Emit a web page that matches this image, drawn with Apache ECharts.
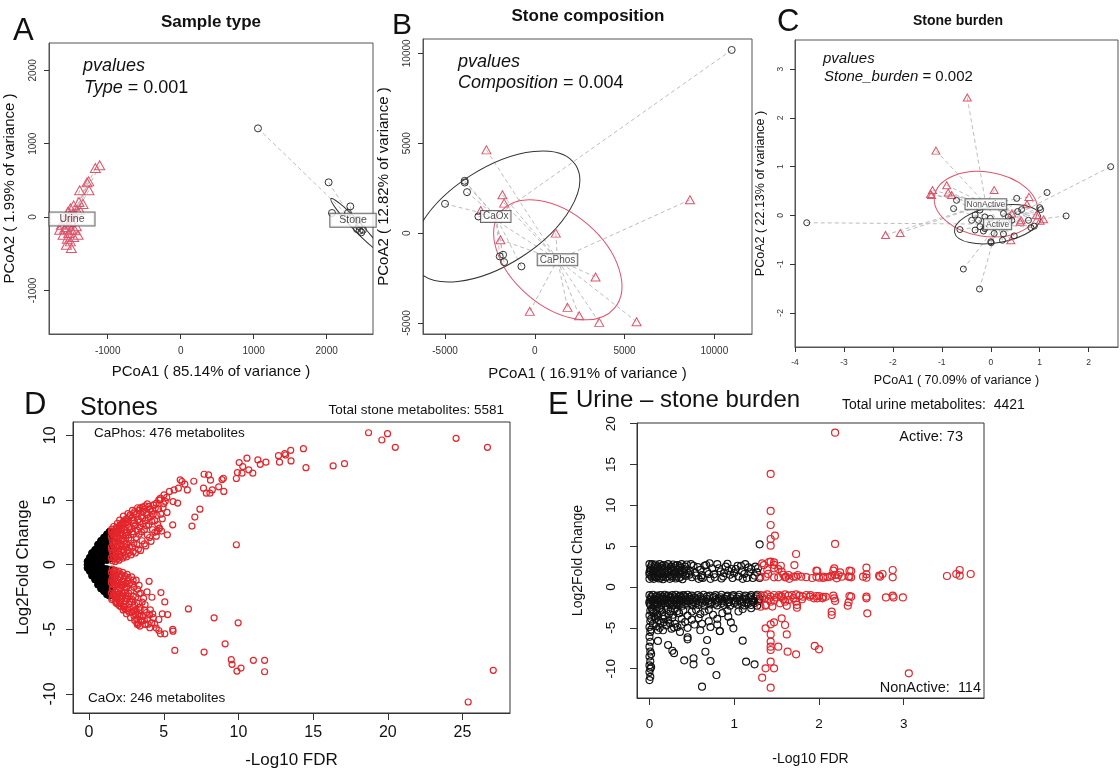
<!DOCTYPE html>
<html><head><meta charset="utf-8">
<script src="https://cdn.jsdelivr.net/npm/echarts@6/dist/echarts.min.js"></script>
<style>html,body{margin:0;padding:0;background:#fff}#c{width:1120px;height:773px}</style>
</head><body><div id="c"></div>
<script>
// ---------- Panel A: Sample type ----------
const aUrine = [[-1110,705],[-1169,668],[-1260,486],[-1283,473],[-1384,364],[-1256,364],[-1393,205],[-1338,177],[-1466,159],[-1511,118],[-1420,95],[-1543,73],[-1466,55],[-1384,100],[-1480,40],[-1530,20],[-1575,-36],[-1500,-60],[-1635,-105],[-1566,-136],[-1498,-173],[-1429,-127],[-1534,-218],[-1612,-241],[-1466,-273],[-1406,-241],[-1566,-377],[-1498,-423],[-1553,-295],[-1511,-332],[-1658,-173],[-1590,-160],[-1450,-180],[-1540,-90]];
const aStone = [[1059,1209],[2027,473],[2324,145],[2073,55],[2292,55],[2429,-36],[2416,-164],[2452,-186],[2475,-209],[2498,-173],[2443,-127]];
const aUrineCentroid = [-1489,-27];
const aStoneCentroid = [2361,-45];
const aStoneEllipse = [2400,-110, 2060,250, 2445,-67]; // centre, major-axis end, minor-axis end
const aXTicks = [-1000,0,1000,2000];
const aYTicks = [-1000,0,1000,2000];

// ---------- Panel B: Stone composition ----------
const bCaOx = [[10968,10186],[-3904,2908],[-3904,2815],[-3774,2278],[-5000,1630],[-3142,926],[-1952,-1296],[-1766,-1204],[-1710,-1611],[-744,-1852]];
const bCaPhos = [[-2696,4630],[-1803,2130],[-1710,1667],[-3012,1259],[-1915,-370],[1171,0],[8644,1852],[3383,-2444],[1822,-4130],[-279,-4352],[2472,-4593],[3588,-4963],[5670,-4926]];
const bCaOxCentroid = [-2175,926];
const bCaPhosCentroid = [1264,-1482];
const bCaOxEllipse = [-2175,926, 2268,3797, -719,-1315];
const bCaPhosEllipse = [1283,-1482, 4428,-4187, -407,-3432];
const bXTicks = [-5000,0,5000,10000];
const bYTicks = [-5000,0,5000,10000];

// ---------- Panel C: Stone burden ----------
const cNonActive = [[-0.48,2.42],[-1.12,1.33],[0.07,0.52],[-1.19,0.52],[-1.23,0.44],[-1.21,0.42],[-0.90,0.62],[-0.87,0.47],[-0.80,0.42],[0.78,0.38],[0.74,0.23],[0.93,0.01],[1.01,-0.11],[1.08,-0.08],[0.62,-0.10],[0.60,-0.13],[0.43,0.04],[0.41,-0.51],[-2.15,-0.40],[-1.85,-0.36]];
const cActive = [[-3.76,-0.15],[2.45,1.00],[1.54,-0.01],[1.15,0.47],[0.53,0.35],[1.00,0.16],[1.02,0.12],[-0.70,0.31],[-0.76,0.14],[-0.22,0.11],[-0.32,0.01],[-0.39,-0.10],[-0.25,-0.10],[-0.12,-0.03],[-0.01,-0.06],[-0.32,-0.30],[-0.15,-0.32],[0.26,0.04],[0.36,-0.03],[0.43,-0.10],[0.55,0.08],[0.63,0.12],[0.77,-0.10],[0.82,-0.25],[0.89,-0.22],[0.48,-0.42],[0.26,-0.38],[0.07,-0.37],[0.24,-0.51],[0.00,-0.54],[0.01,-0.56],[-0.63,-0.29],[-0.56,-1.10],[-0.23,-1.51],[-0.12,-0.27],[-0.22,-0.23]];
const cNonActiveCentroid = [-0.10,0.23];
const cActiveCentroid = [0.14,-0.18];
const cNonActiveEllipse = [-0.10,0.23, 0.95,0.06, -0.21,-0.42];
const cActiveEllipse = [0.14,-0.18, 1.02,-0.015, 0.20,-0.55];
const cXTicks = [-4,-3,-2,-1,0,1,2];
const cYTicks = [-2,-1,0,1,2,3];

// ---------- Panel D: Stones volcano ----------
const dBlack = [[-0.1,0.25],[-0.1,0],[-0.1,-0.25],
[0.05,0.55],[0.05,0.2],[0.05,-0.15],[0.05,-0.5],
[0.2,0.9],[0.2,0.55],[0.2,0.2],[0.2,-0.15],[0.2,-0.5],[0.2,-0.85],
[0.4,1.15],[0.4,0.8],[0.4,0.45],[0.4,0.1],[0.4,-0.25],[0.4,-0.6],[0.4,-0.95],[0.4,-1.15],
[0.6,1.55],[0.6,1.2],[0.6,0.85],[0.6,0.5],[0.6,0.15],[0.6,-0.2],[0.6,-0.55],[0.6,-0.9],[0.6,-1.25],[0.6,-1.55],
[0.8,1.85],[0.8,1.5],[0.8,1.15],[0.8,0.8],[0.8,0.45],[0.8,0.12],[0.8,-0.2],[0.8,-0.55],[0.8,-0.9],[0.8,-1.25],[0.8,-1.6],[0.8,-1.85],
[1.0,2.1],[1.0,1.75],[1.0,1.4],[1.0,1.05],[1.0,0.7],[1.0,0.37],[1.0,-0.32],[1.0,-0.65],[1.0,-1.0],[1.0,-1.35],[1.0,-1.7],[1.0,-2.05],
[1.2,2.35],[1.2,2.0],[1.2,1.65],[1.2,1.3],[1.2,0.95],[1.2,0.6],[1.2,0.36],[1.2,-0.35],[1.2,-0.7],[1.2,-1.05],[1.2,-1.4],[1.2,-1.75],[1.2,-2.1],[1.2,-2.3],
[1.37,2.55],[1.37,2.2],[1.37,1.85],[1.37,1.5],[1.37,1.15],[1.37,0.8],[1.37,0.45],[1.37,-0.4],[1.37,-0.75],[1.37,-1.1],[1.37,-1.45],[1.37,-1.8],[1.37,-2.15],[1.37,-2.4]];
const dRedUp = [[1.55,0.3],[1.6,0.75],[1.52,1.15],[1.62,1.55],[1.55,1.95],[1.6,2.35],[1.52,2.75],[1.65,2.95],
[1.75,0.25],[1.82,0.62],[1.78,1.0],[1.85,1.4],[1.75,1.8],[1.88,2.15],[1.78,2.55],[1.85,2.9],[1.9,3.2],
[2.0,0.35],[2.08,0.8],[1.98,1.25],[2.1,1.62],[2.02,2.05],[2.12,2.45],[2.0,2.8],[2.15,3.15],[2.05,3.45],
[2.25,0.5],[2.32,0.95],[2.22,1.4],[2.35,1.85],[2.28,2.25],[2.38,2.7],[2.25,3.05],[2.4,3.45],[2.3,3.75],
[2.5,0.6],[2.6,1.1],[2.52,1.6],[2.65,2.05],[2.55,2.5],[2.68,2.9],[2.55,3.3],[2.7,3.7],[2.6,3.95],
[2.8,0.75],[2.9,1.35],[2.82,1.9],[2.95,2.35],[2.85,2.8],[2.98,3.2],[2.85,3.6],[3.0,3.95],[2.9,4.2],
[3.1,0.9],[3.2,1.55],[3.15,2.1],[3.25,2.65],[3.12,3.1],[3.3,3.5],[3.18,3.9],[3.35,4.2],[3.25,4.4],
[3.45,1.1],[3.55,1.85],[3.5,2.55],[3.6,3.15],[3.48,3.7],[3.62,4.1],[3.55,4.45],
[3.8,1.45],[3.9,2.3],[3.85,3.0],[3.95,3.6],[3.82,4.0],[4.0,4.5],[3.9,4.7],
[4.15,1.8],[4.25,2.7],[4.2,3.35],[4.3,3.9],[4.1,4.3],[4.35,4.6],
[4.5,2.2],[4.6,3.1],[4.55,3.8],[4.65,4.3],[4.5,4.75],[4.75,5.0],
[4.85,2.6],[4.9,3.55],[4.95,4.4],[5.1,4.9],[5.2,5.2],
[1.5,0.55],[1.5,1.35],[1.5,2.15],[1.5,2.55],[1.58,0.95],[1.58,1.75],[1.68,1.2],[1.68,2.05],[1.7,2.6],[1.7,0.45],[1.95,1.0],[1.95,1.85],[1.95,2.6],[2.2,1.15],[2.2,2.0],[2.2,2.85],[2.45,1.35],[2.45,2.25],[2.45,3.2],
[1.65,0.5],[1.7,1.6],[1.72,2.25],[1.62,1.0],[1.9,0.45],[1.92,1.55],[1.9,2.4],[2.12,0.6],[2.15,1.05],[2.15,1.85],[2.1,2.7],[2.38,0.7],[2.4,1.6],[2.42,2.45],[2.35,3.2],[2.62,0.85],[2.7,1.35],[2.62,2.3],[2.72,2.7],[2.6,3.5],[2.95,1.0],[3.0,1.65],[2.9,2.55],[3.05,3.0],[3.0,3.4],[3.3,1.2],[3.35,2.35],[3.4,2.9],[3.4,3.3],[3.7,1.6],[3.7,2.7],[3.75,3.4],[3.7,4.3],[4.05,2.1],[4.0,3.1],[4.1,3.7],[4.4,2.5],[4.4,3.4],[4.25,4.2],[4.7,2.8],[4.8,3.9],[5.0,4.7],
[1.58,2.6],[1.8,2.75],[2.05,3.0],[2.28,3.3],[2.5,3.55],[2.75,3.85],[3.05,4.1],[3.4,4.35],[3.75,4.55]];
const dRedLow = [[1.55,-0.35],[1.62,-0.75],[1.52,-1.15],[1.6,-1.55],[1.55,-1.95],[1.62,-2.35],[1.52,-2.7],
[1.75,-0.45],[1.82,-0.85],[1.78,-1.3],[1.88,-1.7],[1.75,-2.1],[1.85,-2.5],[1.78,-2.85],[1.9,-3.05],
[2.0,-0.5],[2.1,-0.95],[2.02,-1.4],[2.12,-1.85],[2.0,-2.25],[2.1,-2.65],[2.02,-3.0],[2.15,-3.25],
[2.25,-0.6],[2.35,-1.1],[2.25,-1.55],[2.38,-2.0],[2.28,-2.45],[2.4,-2.85],[2.3,-3.2],[2.42,-3.45],
[2.55,-0.75],[2.62,-1.25],[2.52,-1.75],[2.65,-2.2],[2.55,-2.65],[2.68,-3.05],[2.58,-3.4],[2.7,-3.7],
[2.85,-0.95],[2.92,-1.5],[2.82,-2.0],[2.95,-2.45],[2.85,-2.9],[2.98,-3.3],[2.88,-3.65],[3.0,-3.95],
[3.15,-1.2],[3.25,-1.9],[3.12,-2.5],[3.3,-3.0],[3.15,-3.45],[3.28,-3.85],[3.2,-4.2],
[3.45,-2.2],[3.55,-2.9],[3.42,-3.5],[3.6,-4.0],[3.5,-4.4],[3.4,-4.75],
[3.75,-3.1],[3.85,-3.7],[3.7,-4.3],[3.95,-4.6],[4.1,-3.5],[4.3,-4.1],[4.4,-4.6],
[1.5,-0.6],[1.5,-1.4],[1.5,-2.2],[1.58,-1.0],[1.58,-1.8],[1.68,-1.1],[1.68,-2.25],[1.7,-0.55],[1.95,-1.15],[1.95,-2.0],[2.2,-1.3],[2.2,-2.2],[2.45,-1.45],[2.45,-2.4],
[1.65,-0.5],[1.7,-1.6],[1.72,-2.5],[1.62,-1.3],[1.9,-0.6],[1.92,-1.45],[1.9,-2.3],[2.12,-0.75],[2.15,-1.6],[2.15,-2.45],[2.1,-2.9],[2.38,-0.85],[2.4,-1.75],[2.42,-2.6],[2.35,-3.3],[2.62,-1.0],[2.7,-1.5],[2.62,-2.45],[2.72,-2.85],[2.6,-3.55],[2.95,-1.2],[3.0,-1.75],[2.9,-2.7],[3.05,-3.1],[3.0,-3.6],[3.35,-1.6],[3.35,-2.25],[3.4,-3.3],[3.4,-4.0],[3.65,-2.6],[3.7,-3.5],[3.75,-4.6],[3.9,-4.2],[4.05,-3.9],[4.2,-4.5],[4.5,-4.9],[3.2,-4.5],[3.55,-4.3],
[1.58,-2.6],[1.8,-2.95],[2.05,-3.2],[2.28,-3.5],[2.5,-3.8],[2.78,-4.1],[3.05,-4.3],[3.3,-4.6]];
const dRedOut = [[18.71,10.2],[19.6,9.64],[19.98,10.13],[20.5,9.07],[24.57,9.77],[26.67,9.07],[14.35,8.97],[13.5,8.84],[13.1,8.59],[13.16,8.48],[12.68,8.43],[12.75,7.92],[13.52,8.02],[14.52,7.5],[16.34,7.63],[17.1,7.81],[11.3,8.1],[11.46,7.76],[11.84,7.92],[10.57,8.23],[10.05,7.89],[10.29,7.58],[10.69,7.33],[10.96,7.07],[9.93,7.12],[10.24,7.07],[9.86,6.66],[8.9,6.58],[8.99,6.68],[8.68,6.02],[9.02,5.66],[8.13,6.53],[8.0,6.94],[7.7,6.99],[7.66,5.91],[7.85,5.53],[8.09,5.53],[8.25,5.78],[7.01,6.45],[6.41,6.22],[6.22,6.43],[6.1,6.56],[6.58,5.78],[5.98,5.91],[5.69,5.78],[5.38,5.66],[5.93,4.76],[5.62,4.88],[7.42,4.29],[7.08,3.68],[6.89,2.98],[5.6,3.08],[5.22,4.04],[5.24,2.31],[4.71,2.83],[4.55,2.57],[9.86,1.54],[4.67,5.01],[4.78,5.14],[5.02,5.4],[4.31,4.63],[4.43,4.37],[4.07,4.24],[3.88,3.86],[3.59,3.6],
[4.02,-1.29],[3.88,-2.11],[4.21,-2.52],[4.81,-2.16],[5.07,-2.88],[5.26,-3.86],[4.9,-3.8],[4.67,-4.24],[4.26,-3.8],[4.67,-5.09],[4.78,-5.35],[5.07,-5.35],[5.6,-5.01],[5.62,-5.14],[6.65,-3.42],[8.37,-4.11],[9.98,-4.5],[5.74,-6.63],[7.7,-6.76],[9.11,-6.12],[9.52,-7.35],[9.57,-7.71],[11.0,-7.4],[11.75,-7.4],[9.9,-8.23],[10.17,-8.0],[11.75,-8.28],[27.06,-8.17],[25.38,-10.62],[4.07,-4.88],[3.78,-4.63],[3.47,-4.37],[3.11,-3.86],[3.23,-4.63]];
const dXTicks = [0,5,10,15,20,25];
const dYTicks = [-10,-5,0,5,10];

// ---------- Panel E: Urine - stone burden volcano ----------
const eBlackUpper = [[0,2.8],[0.03,2.8],[0.07,2.75],[0.12,2.8],[0.17,2.7],[0.22,2.8],[0.28,2.75],[0.33,2.7],[0.38,2.8],[0.44,2.75],
[0.02,2.55],[0.06,2.55],[0.1,2.5],[0.15,2.6],[0.2,2.55],[0.26,2.5],[0.31,2.6],[0.36,2.55],[0.42,2.5],
[0.01,2.3],[0.05,2.3],[0.09,2.25],[0.14,2.35],[0.19,2.3],[0.25,2.25],[0.30,2.3],[0.36,2.35],[0.41,2.2],
[0.01,2.05],[0.05,2.05],[0.1,2.0],[0.15,2.1],[0.21,2.05],[0.27,2.0],[0.32,2.1],[0.38,2.05],[0.44,2.0],
[0,1.8],[0.04,1.8],[0.08,1.85],[0.13,1.75],[0.18,1.8],[0.23,1.85],[0.29,1.75],[0.34,1.8],[0.40,1.85],[0.46,1.7],
[0,1.55],[0.04,1.55],[0.09,1.5],[0.14,1.6],[0.19,1.55],[0.24,1.5],[0.3,1.6],[0.36,1.55],[0.42,1.5],
[0.02,1.35],[0.06,1.3],[0.10,1.35],[0.15,1.3],[0.21,1.25],[0.26,1.35],[0.32,1.3],[0.37,1.25],[0.43,1.35],
[0.03,1.15],[0.08,1.15],[0.13,1.1],[0.19,1.2],[0.27,1.15],[0.35,1.1],
[0,1.0],[0.05,1.0],[0.11,1.05],[0.16,0.95],[0.24,1.0],[0.31,1.05],[0.39,0.95],
[0.52,2.6],[0.55,1.4],[0.6,2.1],[0.63,1.1],[0.67,2.7],[0.7,1.6],[0.74,2.3],[0.77,1.2],[0.8,2.8],[0.84,1.9],[0.87,1.3],[0.9,2.5],[0.95,1.5],[0.98,1.1],[1.02,2.2],[1.05,1.3],[1.08,2.6],[1.12,1.6],[1.15,1.1],[1.2,2.2],[1.24,1.4],[1.27,1.8],[1.3,1.1],[0.58,1.0],[0.72,1.0],[0.93,2.0],[1.17,2.4],[0.48,2.0],[0.65,2.6],[0.5,1.2],[0.85,1.05],[1.1,1.0],[1.25,2.5],
[0.49,2.8],[0.54,1.75],[0.57,2.45],[0.62,1.45],[0.68,1.9],[0.71,2.9],[0.76,1.55],[0.82,2.3],[0.88,1.7],[0.92,2.85],[0.97,2.2],[1.0,1.7],[1.04,2.6],[1.09,1.9],[1.13,2.8],[1.18,1.8],[1.22,1.1],[1.28,2.3],[0.47,1.5],[0.61,1.2]];
const eBlackLower = [[0,-1.0],[0.04,-0.95],[0.09,-1.05],[0.13,-1.0],[0.18,-0.95],[0.22,-1.05],[0.27,-1.0],[0.31,-0.95],[0.36,-1.05],[0.4,-1.0],[0.45,-0.95],[0.5,-1.05],[0.57,-1.0],[0.64,-0.95],[0.71,-1.05],[0.78,-1.0],[0.85,-0.95],[0.92,-1.05],[0.99,-1.0],[1.06,-0.95],[1.13,-1.05],[1.2,-1.0],[1.27,-0.95],
[0.02,-1.2],[0.07,-1.2],[0.11,-1.25],[0.16,-1.2],[0.2,-1.15],[0.25,-1.2],[0.3,-1.25],[0.35,-1.2],[0.41,-1.15],[0.47,-1.2],[0.53,-1.25],[0.6,-1.2],[0.68,-1.15],[0.76,-1.2],[0.84,-1.25],[0.91,-1.2],[0.98,-1.15],[1.05,-1.2],[1.12,-1.25],[1.19,-1.2],[1.26,-1.15],
[0.02,-1.4],[0.06,-1.45],[0.11,-1.35],[0.15,-1.4],[0.2,-1.45],[0.24,-1.35],[0.29,-1.4],[0.34,-1.45],[0.38,-1.35],[0.43,-1.4],[0.48,-1.45],[0.54,-1.35],[0.61,-1.4],[0.68,-1.45],[0.75,-1.35],[0.82,-1.4],[0.89,-1.45],[0.96,-1.35],[1.03,-1.4],[1.1,-1.45],[1.17,-1.35],[1.24,-1.4],[1.3,-1.45],
[0.01,-1.6],[0.06,-1.65],[0.1,-1.6],[0.15,-1.55],[0.19,-1.6],[0.24,-1.65],[0.29,-1.6],[0.33,-1.55],[0.38,-1.6],[0.44,-1.65],[0.5,-1.6],[0.56,-1.55],[0.63,-1.6],[0.7,-1.65],[0.78,-1.6],[0.86,-1.55],[0.93,-1.6],[1.0,-1.65],[1.07,-1.6],[1.14,-1.55],[1.21,-1.6],[1.29,-1.65],
[0,-1.8],[0.04,-1.75],[0.08,-1.85],[0.13,-1.8],[0.17,-1.75],[0.22,-1.85],[0.26,-1.8],[0.31,-1.75],[0.35,-1.85],[0.4,-1.8],[0.46,-1.75],[0.52,-1.85],[0.59,-1.8],[0.66,-1.75],[0.73,-1.85],[0.8,-1.8],[0.87,-1.75],[0.94,-1.85],[1.01,-1.8],[1.08,-1.75],[1.15,-1.85],[1.22,-1.8],[1.28,-1.75],
[0,-2.0],[0.05,-2.0],[0.09,-2.05],[0.14,-2.0],[0.18,-1.95],[0.23,-2.0],[0.28,-2.05],[0.32,-2.0],[0.37,-1.95],[0.43,-2.0],[0.49,-2.05],[0.55,-2.0],[0.62,-1.95],[0.7,-2.0],[0.77,-2.05],[0.85,-2.0],[0.92,-1.95],[1.0,-2.0],[1.09,-2.05],[1.17,-2.0],[1.24,-1.95],
[0.01,-2.2],[0.05,-2.25],[0.1,-2.15],[0.14,-2.2],[0.19,-2.3],[0.24,-2.15],[0.28,-2.25],[0.33,-2.2],[0.39,-2.3],[0.45,-2.15],[0.51,-2.25],[0.58,-2.2],[0.65,-2.3],[0.72,-2.15],[0.8,-2.25],[0.88,-2.2],[0.95,-2.3],[1.04,-2.15],[1.12,-2.25],[1.2,-2.2],[1.27,-2.3]];
const eBlackScatter = [[0.03,-2.7],[0.08,-2.9],[0.12,-2.6],[0.05,-3.2],[0.15,-3.1],[0.2,-2.8],[0.1,-3.5],[0.18,-3.6],[0.25,-3.0],[0.3,-2.7],[0.07,-3.9],[0.22,-4.1],[0.28,-3.4],[0.35,-3.2],[0.4,-2.9],[0.13,-4.4],[0.3,-4.5],[0.38,-3.9],[0.45,-3.5],[0.5,-3.0],[0.55,-2.8],[0.6,-3.3],[0.08,-4.8],[0.2,-4.7],[0.26,-5.1],[0.33,-4.9],[0.42,-4.3],[0.5,-4.0],[0.58,-3.8],[0.65,-3.0],[0.7,-2.8],[0.75,-3.4],[0.8,-3.9],[0.86,-3.2],[0.92,-2.9],[0.1,-5.3],[0.16,-5.3],[0.45,-5.0],[0.53,-4.6],[0.62,-4.5],[0.7,-4.2],[0.72,-4.9],[0.8,-4.6],[0.83,-5.4],[0.93,-3.63],[0.96,-4.33],[0.99,-5.06],[1.05,-3.0],[1.1,-2.7],[1.2,-2.6],[0.36,-5.5],[0.6,-5.3],
[0.04,-3.0],[0.09,-3.25],[0.14,-2.75],[0.06,-3.65],[0.16,-3.9],[0.23,-3.3],[0.11,-4.1],[0.27,-3.75],[0.33,-2.95],[0.04,-4.5],[0.17,-4.3],[0.24,-4.45],[0.38,-4.6],[0.12,-5.0],[0.29,-4.95],
[0.01,-2.9],[0,-3.5],[0.01,-4.2],[0,-4.9],[0.01,-5.5],[0,-6.1],[0.01,-6.7],[0,-7.3],[0.01,-7.9],[0,-8.5],[0.01,-9.1],[0,-9.6],[0.01,-10.0],[0,-10.4],[0.01,-11.0],[0,-11.4],[0.02,-3.9],[0.02,-5.2],[0.02,-8.2],[0.02,-9.8],
[1.30,5.22],[0.10,-6.6],[0.22,-7.1],[0.27,-7.8],[0.29,-8.1],[0.41,-8.98],[0.52,-8.73],[0.52,-9.47],[0.62,-12.2],[0.66,-7.92],[0.68,-6.49],[0.72,-9.06],[0.79,-10.78],[0.83,-5.39],[1.10,-6.57],[1.14,-9.14],[1.24,-9.47],[0.45,-6.16],[0.45,-6.41]];
const eRed = [[2.19,18.9],[1.43,13.84],[1.43,9.31],[1.43,7.59],[1.48,6.29],[1.43,5.88],[1.43,5.06],[2.19,5.27],[1.73,4.04],[1.71,2.69],
[1.35,2.69],[1.43,3.10],[1.47,3.02],[1.47,2.29],[1.39,2.08],[1.52,2.20],[1.98,1.96],[2.00,1.14],
[2.18,2.29],[2.19,1.47],[2.15,1.39],[2.23,1.47],[2.27,1.27],[2.21,1.06],[2.25,1.80],[2.38,1.96],[2.38,1.18],[2.35,1.27],
[2.56,2.37],[2.56,1.55],[2.56,1.14],[2.52,1.27],[2.71,1.39],[2.75,1.59],[2.87,2.08],[2.87,1.18],
[3.51,1.35],[3.62,1.59],[3.66,2.08],[3.66,1.39],[3.79,1.59],
[1.60,1.18],[1.73,1.27],[1.75,1.47],[1.79,1.27],[1.64,1.47],[1.56,1.88],[1.52,1.18],[1.47,1.18],[1.37,1.27],[1.31,1.27],[1.40,1.6],[1.55,2.6],[1.65,1.0],[1.85,1.2],[2.05,1.1],[2.10,1.2],[1.92,1.1],
[1.97,1.26],[2.05,1.26],[2.13,1.26],[2.36,1.26],[2.72,1.26],[1.61,1.26],[1.70,1.26],[2.36,2.0],[2.17,2.0],[1.97,2.0],[1.33,2.9],[1.41,3.06],[1.47,2.7],[1.58,1.5],
[1.31,-0.98],[1.35,-1.06],[1.39,-0.90],[1.43,-1.18],[1.47,-0.98],[1.53,-0.98],[1.56,-1.18],[1.60,-0.90],[1.64,-1.06],[1.68,-0.98],[1.73,-0.90],[1.77,-1.06],[1.81,-1.18],[1.85,-0.98],[1.89,-1.18],[1.94,-1.39],[1.98,-1.39],[2.04,-1.39],[2.17,-1.06],[2.18,-1.39],[2.19,-1.71],[2.35,-1.88],[2.38,-1.18],[2.56,-1.18],[2.56,-1.39],[2.79,-1.27],[2.87,-1.06],[2.88,-1.27],[2.99,-1.27],[1.97,-1.1],[2.05,-1.2],[2.36,-1.1],
[1.37,-2.20],[1.43,-1.80],[1.47,-1.59],[1.54,-2.00],[1.60,-1.80],[1.64,-1.59],[1.73,-1.80],[1.74,-2.20],[1.74,-2.53],[1.31,-2.41],[1.37,-2.29],
[1.33,-1.3],[1.41,-1.45],[1.5,-1.3],[1.58,-1.5],[1.7,-1.35],[1.8,-1.5],[1.45,-2.4],[1.62,-2.3],[1.55,-1.1],[1.9,-1.0],[2.0,-1.1],[2.08,-1.2],
[2.15,-3.02],[2.15,-3.43],[2.34,-2.29],[2.57,-3.22],
[1.37,-5.06],[1.43,-4.57],[1.47,-4.33],[1.43,-5.80],[1.43,-6.69],[1.43,-7.31],[1.43,-7.71],[1.52,-7.31],[1.56,-3.84],[1.60,-4.65],[1.62,-5.80],[1.63,-7.92],[1.73,-8.24],[1.95,-7.22],[2.00,-7.63],[1.37,-9.96],[1.43,-9.14],[1.47,-9.96],[1.33,-11.10],[1.43,-12.33],[3.06,-10.57]];
const eXTicks = [0,1,2,3];
const eYTicks = [-10,-5,0,5,10,15,20];

// ---------- styling / building ----------
const FONT = '"Liberation Sans", Arial, Helvetica, sans-serif';
const PINK = '#DF536B';
const RED = '#E3262C';
const grids = [
  {left:49, top:43, width:324, height:291, border:'#555'},
  {left:423, top:39, width:329, height:295, border:'#555'},
  {left:795, top:40, width:323, height:307, border:'#555'},
  {left:73, top:422, width:437, height:291, border:'#333'},
  {left:637, top:423, width:347, height:275, border:'#333'}
];
function xAx(g, min, max, ticks, name, o) {
  return {gridIndex:g, type:'value', min, max, name, nameLocation:'middle', nameGap:o.nameGap,
    nameTextStyle:{fontSize:o.nameSize, color:'#111', fontFamily:FONT},
    axisLine:{show:true, onZero:false, lineStyle:{color:grids[g].border}},
    axisTick:{show:true, inside:false, length:o.tick, customValues:ticks, lineStyle:{color:'#333'}},
    axisLabel:{customValues:ticks, formatter:v=>String(v), fontSize:o.labSize, color:o.labColor, margin:o.margin, fontFamily:FONT},
    splitLine:{show:false}};
}
function yAx(g, min, max, ticks, name, o) {
  return {gridIndex:g, type:'value', min, max, name, nameLocation:'middle', nameGap:o.nameGap,
    nameTextStyle:{fontSize:o.nameSize, color:'#111', fontFamily:FONT},
    axisLine:{show:true, onZero:false, lineStyle:{color:grids[g].border}},
    axisTick:{show:true, inside:false, length:o.tick, customValues:ticks, lineStyle:{color:'#333'}},
    axisLabel:{customValues:ticks, formatter:v=>String(v), rotate:90, fontSize:o.labSize, color:o.labColor, margin:o.margin, fontFamily:FONT},
    splitLine:{show:false}};
}
function spokes(g, pts, c) {
  return {type:'lines', coordinateSystem:'cartesian2d', xAxisIndex:g, yAxisIndex:g, silent:true, z:1,
    data: pts.map(p => ({coords:[p, c]})),
    lineStyle:{color:'#bdbdbd', width:1, type:[4,3], opacity:1}};
}
function pts(g, data, symbol, size, color, z, fill, bw) {
  return {type:'scatter', xAxisIndex:g, yAxisIndex:g, data, symbol, symbolSize:size, z:z||3, silent:true,
    itemStyle:{color: fill || 'rgba(0,0,0,0)', borderColor:color, borderWidth: bw || 1, opacity:1}};
}
function ellipse(g, e, color) {
  return {type:'custom', xAxisIndex:g, yAxisIndex:g, data:[e], clip:true, silent:true, z:2,
    encode:{x:[0,2,4], y:[1,3,5]},
    renderItem(params, api) {
      const c = api.coord([api.value(0), api.value(1)]);
      const m = api.coord([api.value(2), api.value(3)]);
      const n = api.coord([api.value(4), api.value(5)]);
      const rx = Math.hypot(m[0]-c[0], m[1]-c[1]);
      const ry = Math.hypot(n[0]-c[0], n[1]-c[1]);
      const rot = Math.atan2(m[1]-c[1], m[0]-c[0]);
      return {type:'ellipse', x:c[0], y:c[1], rotation:-rot,
        shape:{cx:0, cy:0, rx, ry}, style:{fill:'none', stroke:color, lineWidth:1}};
    }};
}
function groupLabel(g, pos, text, fs, pad) {
  return {type:'scatter', xAxisIndex:g, yAxisIndex:g, data:[{value:pos, name:text}], symbolSize:1, z:10, silent:true,
    itemStyle:{color:'rgba(0,0,0,0)'},
    label:{show:true, position:'inside', formatter:'{b}', backgroundColor:'#fff', borderColor:'#444', borderWidth:1,
      padding:pad, fontSize:fs, color:'#222', fontFamily:FONT}};
}
function txt(x, y, text, o) {
  const st = {x, y, text, fill:o.color||'#111', fontSize:o.size, fontFamily:FONT,
    fontWeight:o.weight||'normal', fontStyle:o.style||'normal',
    align:o.align||'left', textAlign:o.align||'left', verticalAlign:'middle', textVerticalAlign:'middle'};
  if (o.rich) st.rich = o.rich;
  return {type:'text', silent:true, z:100, style:st};
}
function pv(x, y, italicWord, rest, size) {
  return txt(x, y, '{i|'+italicWord+'}{n|'+rest+'}', {size, rich:{
    i:{fontStyle:'italic', fontSize:size, fontFamily:FONT, fill:'#111', color:'#111'},
    n:{fontSize:size, fontFamily:FONT, fill:'#111', color:'#111'}}});
}

const abc = {tick:5, labSize:10, labColor:'#333'};
const option = {
  animation:false,
  backgroundColor:'#fff',
  textStyle:{fontFamily:FONT},
  grid: grids.map(g => ({left:g.left, top:g.top, width:g.width, height:g.height, show:true,
    borderColor:g.border, borderWidth:1, backgroundColor:'rgba(0,0,0,0)', containLabel:false, outerBoundsMode:'none'})),
  xAxis: [
    xAx(0, -1804, 2635, aXTicks, 'PCoA1 ( 85.14% of variance )', Object.assign({nameGap:30, nameSize:15, margin:12}, abc)),
    xAx(1, -6227, 12100, bXTicks, 'PCoA1 ( 16.91% of variance )', Object.assign({nameGap:32, nameSize:15, margin:12}, abc)),
    xAx(2, -4.0, 2.6, cXTicks, 'PCoA1 ( 70.09% of variance )', {nameGap:27, nameSize:12.5, margin:11, tick:5, labSize:8.5, labColor:'#333'}),
    xAx(3, -1.076, 28.18, dXTicks, '-Log10 FDR', {nameGap:39, nameSize:17, margin:12, tick:7, labSize:16, labColor:'#111'}),
    xAx(4, -0.147, 3.947, eXTicks, '-Log10 FDR', {nameGap:54, nameSize:14, margin:19, tick:7, labSize:13.5, labColor:'#111'})
  ],
  yAxis: [
    yAx(0, -1595, 2373, aYTicks, 'PCoA2 ( 1.99% of variance )', Object.assign({nameGap:32, nameSize:15, margin:11}, abc)),
    yAx(1, -5611, 10796, bYTicks, 'PCoA2 ( 12.82% of variance )', Object.assign({nameGap:32, nameSize:15, margin:11}, abc)),
    yAx(2, -2.70, 3.60, cYTicks, 'PCoA2 ( 22.13% of variance )', {nameGap:28, nameSize:12.5, margin:10, tick:5, labSize:8.5, labColor:'#333'}),
    yAx(3, -11.47, 11.03, dYTicks, 'Log2Fold Change', {nameGap:41, nameSize:17, margin:14, tick:7, labSize:16, labColor:'#111'}),
    yAx(4, -13.59, 20.08, eYTicks, 'Log2Fold Change', {nameGap:52, nameSize:14, margin:19, tick:7, labSize:13.5, labColor:'#111'})
  ],
  series: [
    // A
    spokes(0, aUrine, aUrineCentroid), spokes(0, aStone, aStoneCentroid),
    ellipse(0, aStoneEllipse, '#333'),
    pts(0, aUrine, 'triangle', [10,9], PINK),
    pts(0, aStone, 'circle', 7, '#333'),
    groupLabel(0, aUrineCentroid, 'Urine', 10.5, [1,10,1,10]),
    groupLabel(0, aStoneCentroid, 'Stone', 10.5, [1,9,1,9]),
    // B
    spokes(1, bCaOx, bCaOxCentroid), spokes(1, bCaPhos, bCaPhosCentroid),
    ellipse(1, bCaOxEllipse, '#333'), ellipse(1, bCaPhosEllipse, PINK),
    pts(1, bCaPhos, 'triangle', [9,8], PINK),
    pts(1, bCaOx, 'circle', 7, '#333'),
    groupLabel(1, bCaOxCentroid, 'CaOx', 10, [1,2,0,2]),
    groupLabel(1, bCaPhosCentroid, 'CaPhos', 10, [1,2,0,2]),
    // C
    spokes(2, cNonActive, cNonActiveCentroid), spokes(2, cActive, cActiveCentroid),
    ellipse(2, cNonActiveEllipse, PINK), ellipse(2, cActiveEllipse, '#333'),
    pts(2, cNonActive, 'triangle', [8,7], PINK),
    pts(2, cActive, 'circle', 6, '#333'),
    groupLabel(2, cNonActiveCentroid, 'NonActive', 8.5, [1,1,0,1]),
    groupLabel(2, cActiveCentroid, 'Active', 8.5, [1,2,0,2]),
    // D
    pts(3, dBlack, 'circle', 7, '#000', 3, '#000'),
    pts(3, dRedUp, 'circle', 6, RED, 4, null, 1.2),
    pts(3, dRedLow, 'circle', 6, RED, 4, null, 1.2),
    pts(3, dRedOut, 'circle', 6, RED, 4, null, 1.2),
    // E
    pts(4, eBlackUpper, 'circle', 7, '#111', 3, null, 1.1),
    pts(4, eBlackLower, 'circle', 7, '#111', 3, null, 1.1),
    pts(4, eBlackScatter, 'circle', 7, '#111', 3, null, 1.1),
    pts(4, eRed, 'circle', 7, RED, 4, null, 1.2)
  ],
  graphic: [
    txt(13, 31, 'A', {size:31}),
    txt(392, 26, 'B', {size:30}),
    txt(777, 22, 'C', {size:31}),
    txt(24, 405, 'D', {size:31}),
    txt(548, 405, 'E', {size:31}),
    txt(211, 22, 'Sample type', {size:17, weight:'bold', align:'center'}),
    txt(588, 16, 'Stone composition', {size:17, weight:'bold', align:'center'}),
    txt(958, 21, 'Stone burden', {size:14, weight:'bold', align:'center'}),
    txt(83, 66, 'pvalues', {size:18, style:'italic'}),
    pv(84, 88, 'Type', ' = 0.001', 18),
    txt(458, 62, 'pvalues', {size:18, style:'italic'}),
    pv(458, 83, 'Composition', ' = 0.004', 18),
    txt(823, 59, 'pvalues', {size:15, style:'italic'}),
    pv(824, 77, 'Stone_burden', ' = 0.002', 15),
    txt(80, 408, 'Stones', {size:25}),
    txt(504, 410, 'Total stone metabolites: 5581', {size:13.5, align:'right'}),
    txt(94, 433, 'CaPhos: 476 metabolites', {size:13.5}),
    txt(88, 698, 'CaOx: 246 metabolites', {size:13.5}),
    txt(576, 400, 'Urine \u2013 stone burden', {size:24}),
    txt(842, 405, 'Total urine metabolites:  4421', {size:14}),
    txt(963, 437, 'Active: 73', {size:14.5, align:'right'}),
    txt(981, 688, 'NonActive:  114', {size:14.5, align:'right'})
  ]
};
const chart = echarts.init(document.getElementById('c'), null, {renderer:'canvas', width:1120, height:773});
chart.setOption(option);
</script></body></html>
